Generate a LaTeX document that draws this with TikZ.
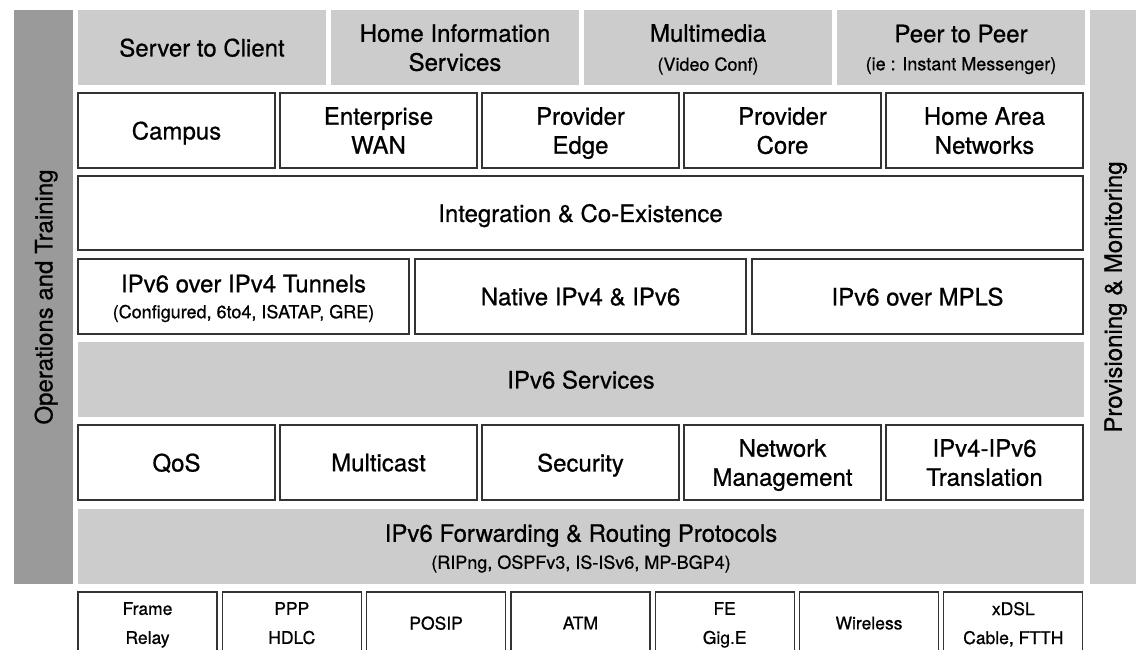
\documentclass[tikz,border=0pt]{standalone}
\usepackage{fontspec}
\setmainfont{TeX Gyre Heros}[FakeBold=0.7]
\usepackage{tikz}
\usetikzlibrary{positioning}

\definecolor{lightgrey}{HTML}{CCCCCC}
\definecolor{darkgrey}{HTML}{9A9A9A}
\definecolor{edge}{HTML}{333333}
\newcommand{\bigtext}{\fontsize{24}{29}\selectfont}
\newcommand{\smalltext}{\fontsize{18}{20}\selectfont}
\newcommand{\linktext}{\fontsize{17.5}{29}\selectfont}

\begin{document}
\begin{tikzpicture}[x=1pt, y=-1pt,
  box/.style = {inner sep=0, outer sep=0, align=center, font=\bigtext, text depth=0pt, minimum height=75},
  band/.style = {box, fill=lightgrey},
  cell/.style = {box, draw=edge, line width=1.2pt, fill=white},
  link/.style = {cell, minimum height=62, minimum width=139, font=\linktext}]
\clip (0,0) rectangle (1136,650);
\node[band, fill=darkgrey, rotate=90, minimum width=574, minimum height=59] (ops) at (43.5,297) {Operations and Training};
\node[band, rotate=90, minimum width=574, minimum height=46] (prov) at (1113,297) {Provisioning \& Monitoring};

\node[band, minimum width=248, anchor=north west] (s2c) at (78,10) {Server to Client};
\node[band, minimum width=248, right=5pt of s2c] (his) {Home Information\\Services};
\node[band, minimum width=248, right=5pt of his] (mm) {Multimedia\\[0pt]{\smalltext (Video Conf)}};
\node[band, minimum width=248, right=5pt of mm] (p2p) {Peer to Peer\\[-1pt]{\smalltext (ie : Instant Messenger)}};

\node[cell, minimum width=197, anchor=north west] (campus) at (78,93) {Campus};
\node[cell, minimum width=197, right=5pt of campus] (wan) {Enterprise\\WAN};
\node[cell, minimum width=197, right=5pt of wan] (pedge) {Provider\\Edge};
\node[cell, minimum width=197, right=5pt of pedge] (pcore) {Provider\\Core};
\node[cell, minimum width=197, right=5pt of pcore] (han) {Home Area\\Networks};

\node[cell, minimum width=1005, minimum height=74, anchor=north west] (integ) at (78,176) {Integration \& Co-Existence};

\node[cell, minimum width=331, anchor=north west] (tunnels) at (78,259) {IPv6 over IPv4 Tunnels\\[-3pt]{\smalltext (Configured, 6to4, ISATAP, GRE)}};
\node[cell, minimum width=331, right=6pt of tunnels] (native) {Native IPv4 \& IPv6};
\node[cell, minimum width=331, right=6pt of native] (mpls) {IPv6 over MPLS};

\node[band, minimum width=1006, anchor=north west] (services) at (78,342) {IPv6 Services};

\node[cell, minimum width=197, anchor=north west] (qos) at (78,425) {QoS};
\node[cell, minimum width=197, right=5pt of qos] (mcast) {Multicast};
\node[cell, minimum width=197, right=5pt of mcast] (sec) {Security};
\node[cell, minimum width=197, right=5pt of sec] (mgmt) {Network\\Management};
\node[cell, minimum width=197, right=5pt of mgmt] (trans) {IPv4-IPv6\\Translation};

\node[band, minimum width=1006, anchor=north west] (routing) at (78,509) {IPv6 Forwarding \& Routing Protocols\\[-2pt]{\smalltext (RIPng, OSPFv3, IS-ISv6, MP-BGP4)}};

\node[link, anchor=north west] (frame) at (78,592) {Frame\\Relay};
\node[link, right=5.3pt of frame] (ppp) {PPP\\HDLC};
\node[link, right=5.3pt of ppp] (posip) {POSIP};
\node[link, right=5.3pt of posip] (atm) {ATM};
\node[link, right=5.3pt of atm] (fe) {FE\\Gig.E};
\node[link, right=5.3pt of fe] (wireless) {Wireless};
\node[link, right=5.3pt of wireless] (xdsl) {xDSL\\Cable, FTTH};
\end{tikzpicture}
\end{document}
